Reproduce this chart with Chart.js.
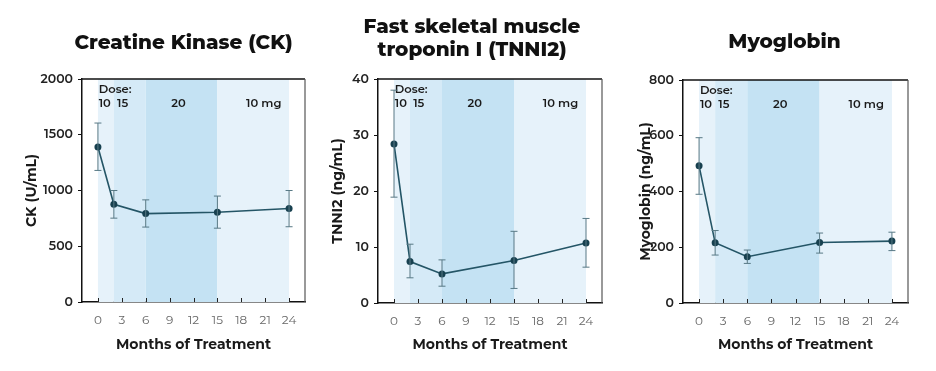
<!DOCTYPE html>
<html>
<head>
<meta charset="utf-8">
<script src="https://cdn.jsdelivr.net/npm/chart.js@4.4.1/dist/chart.umd.min.js"></script>
<style>
    body { margin: 0; background: #fff; }
    #wrap { position: relative; width: 936px; height: 371px; }
    .panel { position: absolute; top: 0; width: 312px; height: 371px; }
</style>
</head>
<body>
<div id="wrap">
    <div class="panel" style="left:0"><canvas id="ckChart"></canvas></div>
    <div class="panel" style="left:312px"><canvas id="tnniChart"></canvas></div>
    <div class="panel" style="left:624px"><canvas id="myoChart"></canvas></div>
</div>
<script>
// months at which samples were taken
const months = [0, 2, 6, 15, 24];
const monthTicks = [0, 3, 6, 9, 12, 15, 18, 21, 24];

// CK (U/mL)
const ckMean = [1390, 876, 793, 805, 838];
const ckLow = [1180, 752, 672, 662, 675];
const ckHigh = [1605, 1000, 916, 950, 1000];
const ckTicks = [0, 500, 1000, 1500, 2000];

// TNNI2 (ng/mL)
const tnniMean = [28.4, 7.4, 5.2, 7.6, 10.7];
const tnniLow = [18.9, 4.5, 3.0, 2.6, 6.4];
const tnniHigh = [38.0, 10.5, 7.7, 12.8, 15.1];
const tnniTicks = [0, 10, 20, 30, 40];

// Myoglobin (ng/mL)
const myoMean = [492, 216, 166, 217, 222];
const myoLow = [390, 172, 142, 179, 188];
const myoHigh = [593, 260, 190, 251, 254];
const myoTicks = [0, 200, 400, 600, 800];

// dosing periods (months) and labels
const doseStart = [0, 2, 6, 15];
const doseEnd = [2, 6, 15, 24];
const doseColors = ['#e6f2fa', '#d5eaf7', '#c4e2f3', '#e6f2fa'];
const doseText = ['10', '15', '20', '10 mg'];
const doseTextAt = [0.1, 2.4, 9.2, 18.6];

const fontFam = "Montserrat, 'DejaVu Sans', sans-serif";

const bandsPlugin = {
    id: 'bands',
    beforeDatasetsDraw(chart) {
        const { ctx, chartArea, scales } = chart;
        const x = scales.x;
        ctx.save();
        for (let i = 0; i < doseStart.length; i++) {
            const x0 = x.getPixelForValue(doseStart[i]);
            const x1 = x.getPixelForValue(doseEnd[i]);
            ctx.fillStyle = doseColors[i];
            ctx.fillRect(x0, chartArea.top, x1 - x0, chartArea.bottom - chartArea.top);
        }
        ctx.fillStyle = '#1a1a1a';
        ctx.font = '600 11.5px ' + fontFam;
        ctx.textBaseline = 'middle';
        ctx.textAlign = 'left';
        ctx.fillText('Dose:', x.getPixelForValue(doseTextAt[0]), chartArea.top + 11);
        for (let i = 0; i < doseText.length; i++) {
            ctx.fillText(doseText[i], x.getPixelForValue(doseTextAt[i]), chartArea.top + 25);
        }
        ctx.restore();
    },
    afterDatasetsDraw(chart) {
        // error bars
        const { ctx, scales } = chart;
        const opt = chart.options.plugins.errBars;
        ctx.save();
        ctx.strokeStyle = '#587985';
        ctx.lineWidth = 1;
        for (let i = 0; i < months.length; i++) {
            const px = scales.x.getPixelForValue(months[i]);
            const lo = scales.y.getPixelForValue(opt.low[i]);
            const hi = scales.y.getPixelForValue(opt.high[i]);
            ctx.beginPath();
            ctx.moveTo(px, lo); ctx.lineTo(px, hi);
            ctx.moveTo(px - 3.5, lo); ctx.lineTo(px + 3.5, lo);
            ctx.moveTo(px - 3.5, hi); ctx.lineTo(px + 3.5, hi);
            ctx.stroke();
        }
        ctx.restore();
    },
    afterDraw(chart) {
        const { ctx, chartArea, scales } = chart;
        ctx.save();
        // frame
        ctx.strokeStyle = '#111';
        ctx.lineWidth = 1.5;
        ctx.beginPath();
        ctx.moveTo(chartArea.left, chartArea.top);
        ctx.lineTo(chartArea.right, chartArea.top);
        ctx.stroke();
        ctx.strokeStyle = '#555';
        ctx.lineWidth = 1.2;
        ctx.beginPath();
        ctx.moveTo(chartArea.right, chartArea.top);
        ctx.lineTo(chartArea.right, chartArea.bottom);
        ctx.stroke();
        // inside x ticks
        ctx.strokeStyle = '#222';
        ctx.lineWidth = 1;
        ctx.beginPath();
        monthTicks.forEach(m => {
            const px = Math.round(scales.x.getPixelForValue(m)) + 0.5;
            ctx.moveTo(px, chartArea.bottom);
            ctx.lineTo(px, chartArea.bottom - 4);
        });
        ctx.stroke();
        // title
        const t = chart.options.plugins.panelTitle;
        ctx.fillStyle = '#111';
        ctx.font = '800 20px ' + fontFam;
        ctx.textAlign = 'center';
        ctx.textBaseline = 'middle';
        const cx = (chartArea.left + chartArea.right) / 2 - 11 + t.dx;
        t.lines.forEach((line, i) => ctx.fillText(line, cx, t.y + i * 23));
        ctx.restore();
    }
};

function makeChart(id, mean, low, high, yTicks, yTitle, titleLines, titleY, geo) {
    const ctx = document.getElementById(id).getContext('2d');
    return new Chart(ctx, {
        type: 'line',
        data: {
            datasets: [{
                data: months.map((m, i) => ({ x: m, y: mean[i] })),
                borderColor: '#245566',
                backgroundColor: '#17404f',
                borderWidth: 1.6,
                pointRadius: 3.5,
                pointBorderWidth: 0,
                tension: 0
            }]
        },
        options: {
            responsive: false,
            animation: false,
            layout: { padding: { top: geo.top, right: geo.right, left: 0, bottom: 0 } },
            plugins: {
                legend: { display: false },
                tooltip: { enabled: false },
                errBars: { low: low, high: high },
                panelTitle: { lines: titleLines, y: titleY, dx: geo.tdx }
            },
            scales: {
                x: {
                    type: 'linear',
                    min: -2,
                    max: 26,
                    afterBuildTicks: s => { s.ticks = monthTicks.map(v => ({ value: v })); },
                    afterFit: s => { s.height = geo.xh; },
                    grid: { display: false, drawTicks: false },
                    border: { color: '#111', width: 1.5 },
                    ticks: { color: '#666', padding: 11, font: { family: fontFam, size: 12 } },
                    title: {
                        display: true,
                        text: 'Months of Treatment',
                        color: '#1a1a1a',
                        padding: { top: 0, bottom: 18 },
                        font: { family: fontFam, size: 14, weight: 'bold' }
                    }
                },
                y: {
                    min: 0,
                    max: yTicks[yTicks.length - 1],
                    afterBuildTicks: s => { s.ticks = yTicks.map(v => ({ value: v })); },
                    afterFit: s => { s.width = geo.yw; },
                    grid: { drawOnChartArea: false, drawTicks: true, tickLength: 4, color: '#111' },
                    border: { color: '#111', width: 1.5 },
                    ticks: {
                        color: '#222',
                        padding: 5,
                        font: { family: fontFam, size: 12.5, weight: '600' },
                        callback: v => String(v)
                    },
                    title: {
                        display: true,
                        text: yTitle,
                        color: '#1a1a1a',
                        padding: { top: geo.tp, bottom: 0 },
                        font: { family: fontFam, size: 14, weight: 'bold' }
                    }
                }
            }
        },
        plugins: [bandsPlugin]
    });
}

function sizeCanvas(id) {
    const c = document.getElementById(id);
    c.width = 312; c.height = 371;
    c.style.width = '312px'; c.style.height = '371px';
}

window.onload = function() {
    ['ckChart', 'tnniChart', 'myoChart'].forEach(sizeCanvas);
    makeChart('ckChart', ckMean, ckLow, ckHigh, ckTicks, 'CK (U/mL)',
        ['Creatine Kinase (CK)'], 43, { top: 79, right: 7, xh: 69, yw: 82, tp: 23.5, tdx: 1 });
    makeChart('tnniChart', tnniMean, tnniLow, tnniHigh, tnniTicks, 'TNNI2 (ng/mL)',
        ['Fast skeletal muscle', 'troponin I (TNNI2)'], 27, { top: 79, right: 22, xh: 68, yw: 66, tp: 17.5, tdx: -7 });
    makeChart('myoChart', myoMean, myoLow, myoHigh, myoTicks, 'Myoglobin (ng/mL)',
        ['Myoglobin'], 42, { top: 80, right: 28, xh: 68, yw: 59, tp: 13.5, tdx: 0 });
};
</script>
</body>
</html>
